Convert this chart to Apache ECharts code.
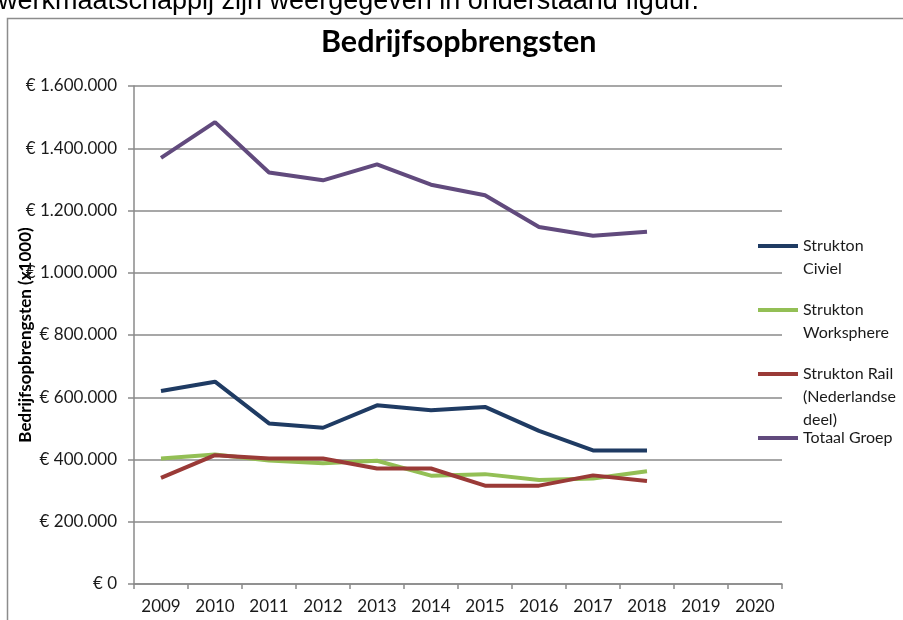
<!DOCTYPE html>
<html lang="nl">
<head>
	<meta charset="UTF-8">
	<title>Bedrijfsopbrengsten</title>
	<style type="text/css">
	body,html{
		width: 100%;
		height: 100%;
		margin: 0;
		padding: 0;
		background: #fff;
	}
	#chart{
		width: 903px;
		height: 620px;
	}
	</style>
</head>
<body>
	<div id="chart"></div>
<script type="text/javascript" src="https://cdn.jsdelivr.net/npm/echarts@6/dist/echarts.min.js"></script>
<script type="text/javascript">
	// jaren op de x-as (2019 en 2020 zonder data)
	var years = ['2009','2010','2011','2012','2013','2014','2015','2016','2017','2018','2019','2020'];

	// bedrijfsopbrengsten x1000
	var civiel      = [620000, 650000, 516000, 502000, 574000, 558000, 569000, 492000, 429000, 429000];
	var worksphere  = [403000, 416000, 397000, 388000, 396000, 348000, 353000, 334000, 339000, 362000];
	var rail        = [341000, 414000, 403000, 403000, 371000, 371000, 316000, 316000, 349000, 331000];
	var totaal      = [1369000, 1484000, 1322000, 1297000, 1348000, 1283000, 1249000, 1147000, 1119000, 1132000];

	var seriesNames = ['Strukton Civiel', 'Strukton Worksphere', 'Strukton Rail (Nederlandse deel)', 'Totaal Groep'];
	var legendLines = [['Strukton', 'Civiel'], ['Strukton', 'Worksphere'], ['Strukton Rail', '(Nederlandse', 'deel)'], ['Totaal Groep']];
	var colors = ['#1f3b63', '#93bf55', '#9a3a37', '#614a7d'];

	var yTicks = [0, 200000, 400000, 600000, 800000, 1000000, 1200000, 1400000, 1600000];

	function euro(v){
		var s = String(v).replace(/\B(?=(\d{3})+(?!\d))/g, '.');
		return '€ ' + s;
	}

	var chart = echarts.init(document.getElementById('chart'));

	var gridColor = '#8a8a8a';
	var font = 'Lato';
	var LH = 23;

	// een legenda per reeks; lege regels erboven zodat het lijntje bij de eerste regel staat
	var legendCenters = [246, 310, 374, 438];
	var legends = seriesNames.map(function(name, i){
		var n = legendLines[i].length;
		var pad = [];
		for (var k = 1; k < n; k++) pad.push(' ');
		var txt = pad.concat(legendLines[i]).join('\n');
		return {
			data: [name],
			orient: 'vertical',
			left: 758,
			top: legendCenters[i] - (2 * n - 1) * LH / 2,
			padding: 0,
			icon: 'rect',
			itemWidth: 40,
			itemHeight: 4,
			selectedMode: false,
			formatter: function(){ return txt; },
			textStyle: {
				fontFamily: font,
				fontSize: 16,
				color: '#1a1a1a',
				lineHeight: LH
			}
		};
	});

	var seriesData = [civiel, worksphere, rail, totaal];

	var option = {
		animation: false,
		color: colors,
		title: {
			text: 'Bedrijfsopbrengsten',
			left: 316,
			top: 22,
			textStyle: {
				fontFamily: font,
				fontWeight: 'bold',
				fontSize: 30.5,
				color: '#000'
			}
		},
		graphic: [{
			type: 'text',
			left: -2,
			top: -12,
			style: {
				text: 'werkmaatschappij zijn weergegeven in onderstaand figuur.',
				font: '27px "Liberation Sans"',
				fill: '#000'
			}
		}, {
			type: 'polyline',
			shape: { points: [[7.5, 620], [7.5, 18.5], [903, 18.5]] },
			style: { stroke: '#8c8c8c', lineWidth: 1.5, fill: null }
		}],
		legend: legends,
		grid: {
			left: 134,
			right: 121,
			top: 86,
			bottom: 36,
			containLabel: false,
			outerBoundsMode: 'none'
		},
		xAxis: {
			type: 'category',
			data: years,
			boundaryGap: true,
			axisLine: { lineStyle: { color: gridColor, width: 1.5 } },
			axisTick: { show: true, length: 5, interval: 0, lineStyle: { color: gridColor, width: 1.5 } },
			axisLabel: {
				interval: 0,
				margin: 14,
				fontFamily: font,
				fontSize: 17,
				color: '#1a1a1a'
			}
		},
		yAxis: {
			type: 'value',
			min: 0,
			max: 1600000,
			interval: 200000,
			name: 'Bedrijfsopbrengsten (x1000)',
			nameLocation: 'middle',
			nameGap: 100,
			nameMoveOverlap: false,
			nameTextStyle: {
				fontFamily: font,
				fontWeight: 'bold',
				fontSize: 17,
				color: '#000'
			},
			axisLine: { show: true, lineStyle: { color: gridColor, width: 1.5 } },
			axisTick: { show: true, length: 6, lineStyle: { color: gridColor, width: 1.5 } },
			splitLine: { lineStyle: { color: gridColor, width: 1.5 } },
			axisLabel: {
				margin: 17,
				fontFamily: font,
				fontSize: 17,
				color: '#1a1a1a',
				formatter: function(v){
					return yTicks.indexOf(v) >= 0 ? euro(v) : '';
				}
			}
		},
		series: seriesData.map(function(d, i){
			return {
				name: seriesNames[i],
				type: 'line',
				data: d,
				symbol: 'none',
				lineStyle: { width: 4, color: colors[i] },
				itemStyle: { color: colors[i] },
				z: 3 + (i === 2 ? 1 : 0)
			};
		})
	};

	chart.setOption(option);
	window.addEventListener('resize', function(){
		chart.resize();
	});
</script>
</body>
</html>
